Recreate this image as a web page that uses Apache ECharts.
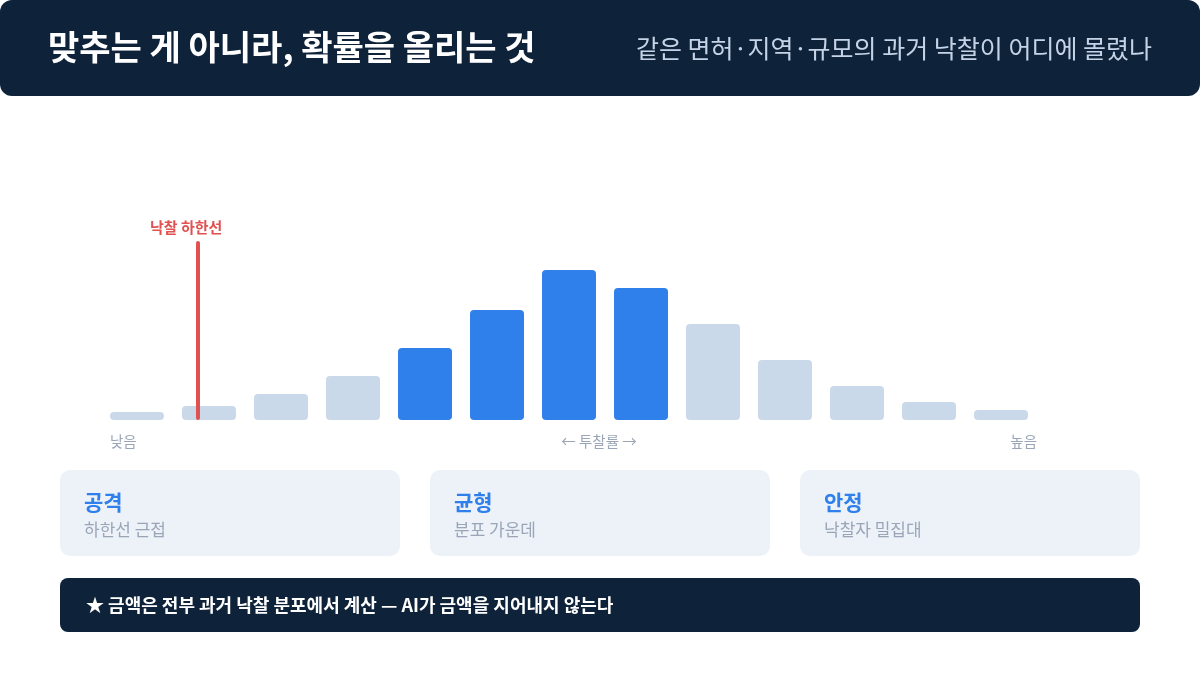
<!DOCTYPE html>
<html>
<head>
<meta charset="utf-8">
<style>
  html, body { margin: 0; padding: 0; background: #ffffff; }
  #chart { width: 1200px; height: 680px; }
</style>
<script src="https://cdn.jsdelivr.net/npm/echarts@6/dist/echarts.min.js"></script>
</head>
<body>
<div id="chart"></div>
<script>
// ---- data ----
const binIndex = [0, 1, 2, 3, 4, 5, 6, 7, 8, 9, 10, 11, 12];
const winCounts = [8, 14, 26, 44, 72, 110, 150, 132, 96, 60, 34, 18, 10];
const sweetSpot = [false, false, false, false, true, true, true, true, false, false, false, false, false];
const floorPosition = 0.85;
const floorLabel = '낙찰 하한선';
const axisLow = '낮음';
const axisMid = '← 투찰률 →';
const axisHigh = '높음';
const titleText = '맞추는 게 아니라, 확률을 올리는 것';
const subtitleText = '같은 면허·지역·규모의 과거 낙찰이 어디에 몰렸나';
const cardTitles = ['공격', '균형', '안정'];
const cardSubs = ['하한선 근접', '분포 가운데', '낙찰자 밀집대'];
const footerText = '★ 금액은 전부 과거 낙찰 분포에서 계산 — AI가 금액을 지어내지 않는다';

const FONT = '"Noto Sans CJK KR", "Noto Sans", sans-serif';
const NAVY = '#0e2239';
const BLUE = '#2f80eb';
const PALE = '#cad9ea';
const RED = '#e05252';
const GRAY = '#9aa6b8';

const chart = echarts.init(document.getElementById('chart'), null, { renderer: 'canvas' });

const barData = binIndex.map((x, i) => ({
  value: [x, winCounts[i]],
  itemStyle: { color: sweetSpot[i] ? BLUE : PALE }
}));

const cardX = [60, 430, 800];
const cardGraphics = [];
cardX.forEach((x, i) => {
  cardGraphics.push({
    type: 'rect', left: x, top: 470, shape: { width: 340, height: 86, r: 10 },
    style: { fill: '#edf2f9' }, silent: true
  });
  cardGraphics.push({
    type: 'text', x: x + 24, y: 502,
    style: { text: cardTitles[i], font: 'bold 21px ' + FONT, fill: BLUE, textVerticalAlign: 'middle', textAlign: 'left' }
  });
  cardGraphics.push({
    type: 'text', x: x + 24, y: 530,
    style: { text: cardSubs[i], font: '17px ' + FONT, fill: GRAY, textVerticalAlign: 'middle', textAlign: 'left' }
  });
});

const option = {
  backgroundColor: '#ffffff',
  animation: false,
  grid: { left: 101, top: 220, width: 936, height: 200, containLabel: false },
  xAxis: {
    type: 'value', min: -0.5, max: 12.5,
    show: false
  },
  yAxis: {
    type: 'value', min: 0, max: 200,
    show: false
  },
  series: [{
    type: 'bar',
    data: barData,
    barWidth: 54,
    itemStyle: { borderRadius: 4 },
    markLine: {
      symbol: ['none', 'none'],
      silent: true,
      lineStyle: { color: RED, width: 4, type: 'solid', cap: 'round' },
      label: {
        show: true, position: 'end', formatter: floorLabel,
        color: RED, fontFamily: FONT, fontWeight: 'bold', fontSize: 15,
        offset: [-12, -3]
      },
      data: [[
        { coord: [floorPosition, 2] },
        { coord: [floorPosition, 177] }
      ]]
    }
  }],
  graphic: [
    {
      type: 'rect', left: 0, top: 0, shape: { width: 1200, height: 96, r: 12 },
      style: { fill: NAVY }, silent: true
    },
    {
      type: 'text', x: 48, y: 47,
      style: { text: titleText, font: 'bold 34px ' + FONT, fill: '#ffffff', textVerticalAlign: 'middle', textAlign: 'left' }
    },
    {
      type: 'text', x: 1152, y: 48,
      style: { text: subtitleText, font: '25px ' + FONT, fill: '#c5d3e6', textVerticalAlign: 'middle', textAlign: 'right' }
    },
    {
      type: 'text', x: 110, y: 441,
      style: { text: axisLow, font: '14.5px ' + FONT, fill: GRAY, textVerticalAlign: 'middle', textAlign: 'left' }
    },
    {
      type: 'text', x: 599, y: 441,
      style: { text: axisMid, font: '14.5px ' + FONT, fill: GRAY, textVerticalAlign: 'middle', textAlign: 'center' }
    },
    {
      type: 'text', x: 1037, y: 441,
      style: { text: axisHigh, font: '14.5px ' + FONT, fill: GRAY, textVerticalAlign: 'middle', textAlign: 'right' }
    },
    ...cardGraphics,
    {
      type: 'rect', left: 60, top: 578, shape: { width: 1080, height: 54, r: 8 },
      style: { fill: NAVY }, silent: true
    },
    {
      type: 'text', x: 86, y: 605,
      style: { text: footerText, font: 'bold 18px ' + FONT, fill: '#ffffff', textVerticalAlign: 'middle', textAlign: 'left' }
    }
  ]
};

chart.setOption(option);
</script>
</body>
</html>
